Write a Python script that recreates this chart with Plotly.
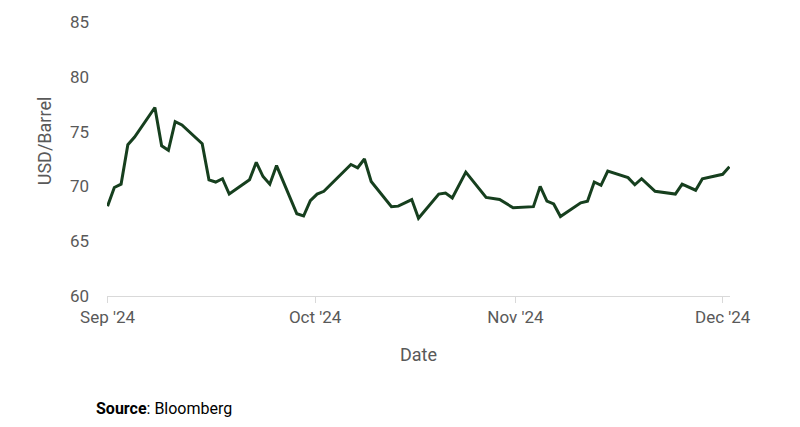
import plotly.graph_objects as go
import pandas as pd

# Day offsets from 1 Sep 2024 and price values (USD/Barrel)
day_offsets = [0, 1, 2, 3, 4, 7, 8, 9, 10, 11, 14, 15, 16, 17, 18,
               21, 22, 23, 24, 25, 28, 29, 30, 31, 32, 36, 37, 38, 39,
               42, 43, 45, 46, 49, 50, 51, 53, 56, 58, 60, 63, 64, 65, 66, 67,
               70, 71, 72, 73, 74, 77, 78, 79, 81, 84, 85, 87, 88, 91, 92]
prices = [68.2, 69.9, 70.2, 73.8, 74.5, 77.2, 73.7, 73.3, 75.9, 75.6, 73.9, 70.6, 70.4, 70.7, 69.3,
          70.6, 72.2, 70.9, 70.2, 71.9, 67.5, 67.3, 68.7, 69.3, 69.55, 72.0, 71.7, 72.5, 70.45,
          68.15, 68.2, 68.8, 67.1, 69.3, 69.4, 68.95, 71.3, 69.0, 68.8, 68.05, 68.15, 70.0, 68.65, 68.4, 67.25,
          68.5, 68.65, 70.4, 70.1, 71.4, 70.8, 70.15, 70.7, 69.55, 69.3, 70.2, 69.65, 70.7, 71.1, 71.8]
tick_dates = ["2024-09-01", "2024-10-01 17:00", "2024-10-31 08:00", "2024-12-01"]
tick_labels = ["Sep '24", "Oct '24", "Nov '24", "Dec '24"]
y_ticks = [60, 65, 70, 75, 80, 85]

dates = pd.Timestamp("2024-09-01") + pd.to_timedelta(day_offsets, unit="D")

FONT = "Roboto"
GREY = "#595959"

fig = go.Figure()
fig.add_trace(go.Scatter(x=dates, y=prices, mode="lines",
                         line=dict(color="#163f1e", width=3), showlegend=False))

fig.update_layout(
    width=800, height=427,
    margin=dict(l=107, r=70, t=17, b=131),
    paper_bgcolor="white", plot_bgcolor="white",
    font=dict(family=FONT, color=GREY, size=16),
    xaxis=dict(
        type="date",
        range=["2024-08-31 22:00", "2024-12-02 02:00"],
        tickvals=tick_dates, ticktext=tick_labels,
        showgrid=False, zeroline=False,
        showline=True, linecolor="#d9d9d9", linewidth=1,
        ticks="outside", ticklen=6, tickcolor="#d9d9d9",
        tickfont=dict(size=17, color=GREY, family=FONT),
    ),
    yaxis=dict(
        range=[60, 85], tickvals=y_ticks,
        showgrid=False, zeroline=False, showline=False,
        ticks="", ticklabelstandoff=17,
        tickfont=dict(size=17, color=GREY, family=FONT),
    ),
    annotations=[
        dict(text="USD/Barrel", xref="paper", yref="paper", x=-0.099, y=0.566,
             textangle=-90, showarrow=False, xanchor="center", yanchor="middle",
             font=dict(size=18, color=GREY, family=FONT)),
        dict(text="Date", xref="paper", yref="paper", x=0.5, y=-0.212,
             showarrow=False, xanchor="center", yanchor="middle",
             font=dict(size=18, color=GREY, family=FONT)),
        dict(text="<b>Source</b>: Bloomberg", xref="paper", yref="paper", x=-0.021, y=-0.409,
             showarrow=False, xanchor="left", yanchor="middle",
             font=dict(size=16, color="black", family=FONT)),
    ],
)

fig.write_html("out.html")
